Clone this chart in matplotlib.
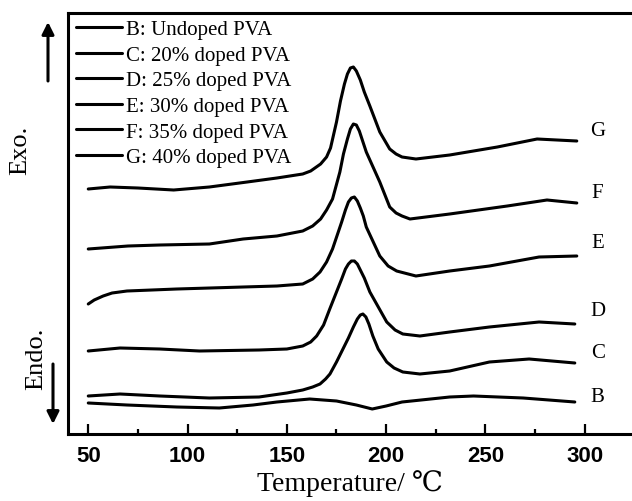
import matplotlib
matplotlib.use("Agg")
import matplotlib.pyplot as plt

# DSC curves (temperature in C, heat flow in arbitrary units)
temp_b = [50, 69.5, 94.6, 116, 133, 145, 161.5, 175, 185, 193, 200, 208, 232, 244, 269, 295]
flow_b = [3.1, 2.9, 2.7, 2.6, 2.9, 3.2, 3.5, 3.3, 2.9, 2.5, 2.8, 3.2, 3.7, 3.8, 3.6, 3.2]

temp_c = [50, 66, 86, 111, 136, 150, 158, 163, 166.7, 169.5, 171.7, 175, 178, 181, 183.5, 185.5,
          187, 188.3, 189.8, 191.3, 193.3, 196, 200.3, 204, 208.4, 217, 232, 252, 272, 295]
flow_c = [3.8, 4.0, 3.8, 3.6, 3.7, 4.1, 4.4, 4.7, 5.0, 5.5, 6.0, 7.2, 8.4, 9.6, 10.7, 11.5,
          11.9, 12.0, 11.7, 11.0, 9.8, 8.5, 7.2, 6.6, 6.2, 6.0, 6.3, 7.2, 7.5, 7.1]

temp_d = [50, 66, 86, 106, 136, 150, 158, 162, 165, 168.5, 171.6, 177.6, 179.5, 181, 182.5, 184,
          185.5, 187, 189, 191.8, 200.3, 204.5, 208.4, 217, 232, 252, 277, 295]
flow_d = [8.3, 8.6, 8.5, 8.3, 8.4, 8.5, 8.8, 9.2, 9.8, 10.9, 12.5, 15.5, 16.5, 17.0, 17.3, 17.3,
          17.0, 16.4, 15.6, 14.2, 11.2, 10.4, 10.0, 9.8, 10.2, 10.7, 11.2, 11.0]

temp_e = [50, 53, 57.5, 62, 69.5, 94.6, 128, 145, 158, 163, 166.7, 170, 173, 177.6, 179.5, 181,
          182.5, 184, 185.5, 187, 188.5, 190, 196.8, 201, 205.3, 215, 232, 252, 277, 296]
flow_e = [13.0, 13.4, 13.8, 14.1, 14.3, 14.5, 14.7, 14.8, 15.0, 15.5, 16.2, 17.2, 18.5, 21.2, 22.4, 23.2,
          23.6, 23.7, 23.3, 22.6, 21.8, 20.7, 17.8, 16.8, 16.3, 15.8, 16.3, 16.8, 17.7, 17.8]

temp_f = [50, 70, 86, 111, 128, 145, 158, 163, 167, 170, 173, 176.7, 178.5, 180.5, 182, 183.5,
          185, 186.5, 188, 190, 196.8, 201.8, 205, 208, 212, 232, 261, 281, 296]
flow_f = [18.5, 18.8, 18.9, 19.0, 19.5, 19.8, 20.3, 20.8, 21.5, 22.4, 23.5, 26.2, 28.0, 29.5, 30.5, 31.0,
          30.9, 30.3, 29.4, 28.2, 25.2, 22.7, 22.1, 21.8, 21.5, 22.0, 22.8, 23.4, 23.1]

temp_g = [50, 61, 75, 93, 111, 130, 145, 158, 162, 167, 170, 172, 175, 177, 179, 180.5, 182,
          183.5, 185, 187, 189, 191.8, 196.8, 201.8, 205, 208, 215, 232, 256, 276, 296]
flow_g = [24.5, 24.7, 24.6, 24.4, 24.7, 25.2, 25.6, 26.0, 26.3, 27.0, 27.7, 28.6, 31.2, 33.3, 35.0, 36.0, 36.6,
          36.7, 36.3, 35.4, 34.2, 32.8, 30.2, 28.5, 28.0, 27.7, 27.5, 27.9, 28.7, 29.5, 29.3]

legend_labels = ["B: Undoped PVA", "C: 20% doped PVA", "D: 25% doped PVA",
                 "E: 30% doped PVA", "F: 35% doped PVA", "G: 40% doped PVA"]
curve_letters = ["B", "C", "D", "E", "F", "G"]
letter_heights = [3.8, 8.2, 12.4, 19.1, 24.2, 30.3]

serif = ["Liberation Serif", "DejaVu Serif"]
W, H = 632, 502

fig = plt.figure(figsize=(W / 100, H / 100), dpi=100)
ax = fig.add_axes([68 / W, 1 - 435 / H, 1 - 68 / W, (435 - 14) / H])

curves = [(temp_b, flow_b), (temp_c, flow_c), (temp_d, flow_d),
          (temp_e, flow_e), (temp_f, flow_f), (temp_g, flow_g)]
for (t, f), lab in zip(curves, legend_labels):
    ax.plot(t, f, color="black", linewidth=2.2, label=lab,
            solid_capstyle="round", solid_joinstyle="round")

for letter, h in zip(curve_letters, letter_heights):
    ax.text(306.5, h, letter, family=serif, fontsize=15, ha="center", va="center")

ax.set_xlim(39.8, 323.8)
ax.set_ylim(0, 42.1)
ax.set_xticks([50, 100, 150, 200, 250, 300])
ax.set_xticks([75, 125, 175, 225, 275], minor=True)
ax.set_yticks([])
ax.tick_params(axis="x", which="major", direction="in", length=7, width=1.6, pad=8)
ax.tick_params(axis="x", which="minor", direction="in", length=3.5, width=1.6)
for lab in ax.get_xticklabels():
    lab.set_family("Liberation Sans")
    lab.set_fontweight("bold")
    lab.set_fontsize(16)
for side in ["left", "bottom", "top"]:
    ax.spines[side].set_linewidth(2.2)
ax.spines["right"].set_visible(False)

ax.set_xlabel("Temperature/ \u2103", family=serif, fontsize=20, labelpad=2)

leg = ax.legend(loc="upper left", bbox_to_anchor=(0, 1.004), borderaxespad=0,
                frameon=False, handlelength=2.2, handletextpad=0.2, labelspacing=0.29,
                prop={"family": serif, "size": 15})

# Exo / Endo markers at the left
fig.text(20 / W, 1 - 150 / H, "Exo.", family=serif, fontsize=19,
         rotation=90, ha="center", va="center")
fig.text(36 / W, 1 - 359 / H, "Endo.", family=serif, fontsize=19,
         rotation=90, ha="center", va="center")
arrow = dict(arrowstyle="-|>", lw=2.2, color="black", mutation_scale=18, shrinkA=0, shrinkB=0)
ax.annotate("", xy=(48, H - 23), xytext=(48, H - 82), xycoords="figure pixels",
            textcoords="figure pixels", arrowprops=arrow)
ax.annotate("", xy=(53, H - 425), xytext=(53, H - 365), xycoords="figure pixels",
            textcoords="figure pixels", arrowprops=arrow)

fig.savefig("out.png", dpi=100)
